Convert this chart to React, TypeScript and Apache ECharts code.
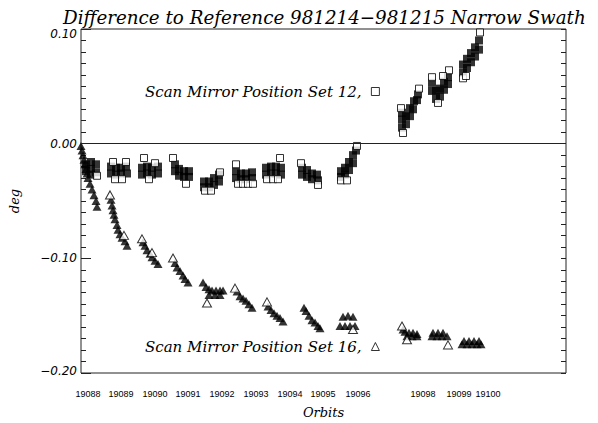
import React, { useEffect, useRef } from "react";
import * as echarts from "echarts";

// x: hours since start of 981214 data span; y: difference in degrees
const orbitLabels = ["19088", "19089", "19090", "19091", "19092", "19093", "19094", "19095", "19096", "19098", "19099", "19100"];
const orbitLabelHours = [0.35, 2.0, 3.7, 5.35, 7.05, 8.75, 10.45, 12.1, 13.85, 17.1, 18.9, 20.35];

const set12Dense: [number, number][] = [
  [0.25, -0.018], [0.25, -0.024], [0.5, -0.016], [0.5, -0.022], [0.5, -0.027], [0.75, -0.018], [0.75, -0.025],
  [1.5, -0.02], [1.5, -0.026], [1.75, -0.021], [1.75, -0.027], [2.0, -0.021], [2.0, -0.026], [2.25, -0.02], [2.3, -0.026],
  [3.05, -0.021], [3.05, -0.027], [3.3, -0.02], [3.3, -0.026], [3.55, -0.021], [3.55, -0.027], [3.85, -0.02], [3.85, -0.026],
  [4.7, -0.018], [4.7, -0.024], [4.9, -0.022], [4.9, -0.028], [5.15, -0.024], [5.15, -0.029], [5.4, -0.024], [5.4, -0.029],
  [6.15, -0.033], [6.15, -0.038], [6.4, -0.033], [6.4, -0.038], [6.65, -0.03], [6.65, -0.036], [6.9, -0.027], [6.9, -0.033],
  [7.75, -0.024], [7.75, -0.03], [8.0, -0.026], [8.0, -0.031], [8.25, -0.026], [8.25, -0.031], [8.55, -0.025], [8.55, -0.03],
  [9.25, -0.021], [9.25, -0.027], [9.5, -0.02], [9.5, -0.026], [9.75, -0.02], [9.75, -0.026], [10.0, -0.021], [10.0, -0.027],
  [11.05, -0.021], [11.05, -0.027], [11.3, -0.023], [11.3, -0.029], [11.55, -0.026], [11.55, -0.031], [11.8, -0.027], [11.85, -0.032],
  [13.0, -0.024], [13.0, -0.029], [13.2, -0.021], [13.2, -0.027], [13.4, -0.016], [13.4, -0.023], [13.6, -0.01], [13.6, -0.017], [13.75, -0.006],
  [16.05, 0.014], [16.05, 0.021], [16.05, 0.027], [16.25, 0.017], [16.25, 0.024], [16.45, 0.024], [16.45, 0.031], [16.6, 0.03], [16.65, 0.037], [16.8, 0.038], [16.85, 0.043],
  [17.55, 0.046], [17.55, 0.053], [17.75, 0.039], [17.75, 0.046], [17.95, 0.041], [17.95, 0.048], [18.15, 0.047], [18.15, 0.054], [18.35, 0.052], [18.35, 0.058],
  [19.1, 0.062], [19.1, 0.069], [19.3, 0.066], [19.3, 0.074], [19.5, 0.071], [19.5, 0.079], [19.7, 0.076], [19.7, 0.084], [19.9, 0.082], [19.9, 0.09],
];

const set12Sparse: [number, number][] = [
  [0.8, -0.028], [1.6, -0.016], [2.25, -0.016], [1.7, -0.031], [2.05, -0.031],
  [3.15, -0.0125], [3.4, -0.031], [3.7, -0.017], [4.6, -0.0125], [5.25, -0.035],
  [6.95, -0.025], [6.2, -0.041], [6.5, -0.041], [7.75, -0.018], [7.85, -0.035],
  [8.1, -0.035], [8.35, -0.035], [8.6, -0.035], [9.95, -0.0125], [9.3, -0.031],
  [9.6, -0.031], [9.85, -0.031], [11.85, -0.036], [11.0, -0.017], [13.8, -0.002],
  [13.0, -0.032], [13.3, -0.032], [16.1, 0.0093], [16.0, 0.031], [16.9, 0.048],
  [17.55, 0.058], [17.85, 0.0355], [18.4, 0.064], [18.1, 0.059], [19.1, 0.057],
  [19.25, 0.059], [19.95, 0.097],
];

const set16Dense: [number, number][] = [
  [0.0, -0.002], [0.05, -0.006], [0.1, -0.01], [0.15, -0.014], [0.2, -0.018], [0.25, -0.022], [0.3, -0.026], [0.35, -0.03], [0.45, -0.035], [0.55, -0.04], [0.65, -0.045], [0.75, -0.05], [0.8, -0.055],
  [1.5, -0.049], [1.55, -0.054], [1.6, -0.058], [1.65, -0.062], [1.7, -0.066], [1.8, -0.071], [1.85, -0.075], [1.95, -0.079], [2.05, -0.082], [2.2, -0.085], [2.3, -0.089],
  [3.1, -0.086], [3.2, -0.089], [3.3, -0.093], [3.45, -0.096], [3.55, -0.099], [3.7, -0.102], [3.85, -0.105],
  [4.7, -0.104], [4.8, -0.108], [4.95, -0.111], [5.1, -0.115], [5.2, -0.118], [5.35, -0.121],
  [6.1, -0.121], [6.25, -0.125], [6.4, -0.127], [6.55, -0.128], [6.75, -0.128], [6.95, -0.128], [7.1, -0.128], [6.4, -0.132], [6.7, -0.132], [6.95, -0.132],
  [7.8, -0.129], [7.95, -0.133], [8.1, -0.135], [8.25, -0.137], [8.4, -0.14], [8.55, -0.143],
  [9.35, -0.142], [9.5, -0.145], [9.65, -0.148], [9.8, -0.15], [9.95, -0.152], [10.1, -0.155],
  [11.15, -0.143], [11.25, -0.146], [11.4, -0.15], [11.55, -0.154], [11.7, -0.156], [11.85, -0.159], [11.95, -0.161],
  [12.95, -0.159], [13.2, -0.159], [13.45, -0.159], [13.7, -0.159], [13.1, -0.151], [13.35, -0.15], [13.6, -0.151],
  [16.1, -0.162], [16.2, -0.164], [16.4, -0.165], [16.6, -0.165], [16.8, -0.166], [16.3, -0.168], [16.55, -0.168], [16.8, -0.168],
  [17.6, -0.165], [17.85, -0.165], [18.1, -0.165], [17.55, -0.168], [17.8, -0.168], [18.05, -0.168], [18.3, -0.168],
  [19.15, -0.172], [19.4, -0.172], [19.65, -0.172], [19.9, -0.172], [19.05, -0.175], [19.3, -0.175], [19.55, -0.175], [19.8, -0.175], [20.0, -0.175],
];

const set16Sparse: [number, number][] = [
  [1.45, -0.0447], [2.15, -0.08], [3.05, -0.083], [3.55, -0.095], [4.6, -0.0997],
  [6.3, -0.139], [7.7, -0.126], [9.3, -0.138], [13.6, -0.162], [16.05, -0.159],
  [16.3, -0.171], [18.35, -0.1755],
];

const yTickLabels = ["\u22120.20", "\u22120.10", "0.00", "0.10"];
const yTickValues = [-0.2, -0.1, 0, 0.1];

const legendNames = ["Scan Mirror Position Set 12,", "Scan Mirror Position Set 16,"];

export default function App() {
  const ref = useRef<HTMLDivElement>(null);
  useEffect(() => {
    document.body.style.margin = "0";
    const chart = echarts.init(ref.current!, null, { renderer: "svg" });
    const serif = "DejaVu Serif";
    const hollow = { color: "#fff", borderColor: "#000", borderWidth: 1 };
    const labelFont = { fontFamily: "DejaVu Sans", fontStyle: "italic", fontSize: 12, color: "#000" };
    const yFmt = (v: number) => {
      const i = yTickValues.findIndex((t) => Math.abs(t - v) < 1e-6);
      if (i < 0) return "";
      if (i === 3) return "{t|" + yTickLabels[i] + "}";
      if (i === 0) return "{b|" + yTickLabels[i] + "}";
      return yTickLabels[i];
    };
    chart.setOption({
      animation: false,
      backgroundColor: "#fff",
      title: {
        text: "Difference to Reference 981214\u2212981215 Narrow Swath",
        left: 58,
        top: 3,
        textStyle: { fontFamily: serif, fontStyle: "italic", fontWeight: "normal", fontSize: 18.3, color: "#000" },
      },
      grid: {
        left: 81, right: 32, top: 29, bottom: 50,
        show: true, borderColor: "#222", borderWidth: 1,
        outerBoundsMode: "none",
      },
      legend: [
        {
          data: [{ name: legendNames[0], icon: "rect", itemStyle: hollow }],
          left: 145, top: 84, padding: 0, align: "right",
          itemWidth: 8, itemHeight: 8, selectedMode: false,
          formatter: (n: string) => n + " ",
          textStyle: { fontFamily: serif, fontStyle: "italic", fontSize: 15, color: "#000" },
        },
        {
          data: [{ name: legendNames[1], icon: "triangle", itemStyle: hollow }],
          left: 145, top: 339, padding: 0, align: "right",
          itemWidth: 8, itemHeight: 8, selectedMode: false,
          formatter: (n: string) => n + " ",
          textStyle: { fontFamily: serif, fontStyle: "italic", fontSize: 15, color: "#000" },
        },
      ],
      xAxis: {
        type: "value",
        min: 0,
        max: 24.25,
        axisLine: { show: false },
        axisTick: { show: false },
        splitLine: { show: false },
        axisLabel: {
          customValues: orbitLabelHours,
          formatter: (v: number) => {
            const i = orbitLabelHours.findIndex((h) => Math.abs(h - v) < 1e-6);
            return i >= 0 ? orbitLabels[i] : "";
          },
          fontFamily: "Liberation Sans",
          fontSize: 9,
          color: "#000",
          margin: 16,
        },
        name: "Orbits",
        nameLocation: "middle",
        nameGap: 33,
        nameTextStyle: { fontFamily: serif, fontStyle: "italic", fontSize: 13, color: "#000" },
      },
      yAxis: [
        {
          type: "value",
          min: -0.2,
          max: 0.1,
          interval: 0.1,
          position: "left",
          axisLine: { show: false },
          axisTick: { show: true, inside: true, length: 10, lineStyle: { color: "#222" } },
          minorTick: { show: true, splitNumber: 10, length: 5, lineStyle: { color: "#222" } },
          splitLine: { show: false },
          axisLabel: {
            formatter: yFmt,
            ...labelFont,
            margin: 4,
            rich: {
              t: { ...labelFont, padding: [10, 0, 0, 0] },
              b: { ...labelFont, padding: [0, 0, 5, 0] },
            },
          },
          name: "deg",
          nameLocation: "middle",
          nameGap: 60,
          nameRotate: 90,
          nameTextStyle: { fontFamily: serif, fontStyle: "italic", fontSize: 13, color: "#000" },
        },
        {
          type: "value",
          min: -0.2,
          max: 0.1,
          interval: 0.1,
          position: "right",
          axisLine: { show: false },
          axisTick: { show: true, inside: true, length: 5, lineStyle: { color: "#222" } },
          minorTick: { show: true, splitNumber: 10, length: 5, lineStyle: { color: "#222" } },
          splitLine: { show: false },
          axisLabel: { show: false },
        },
      ],
      series: [
        {
          name: "Set 12 dense",
          type: "scatter",
          symbol: "rect",
          symbolSize: 8,
          itemStyle: { color: "#000" },
          data: set12Dense,
          markLine: {
            silent: true,
            symbol: "none",
            label: { show: false },
            lineStyle: { color: "#222", type: "solid", width: 1 },
            data: [{ yAxis: 0 }],
          },
        },
        {
          name: "Set 16 dense",
          type: "scatter",
          symbol: "triangle",
          symbolSize: [9, 8],
          itemStyle: { color: "#000" },
          data: set16Dense,
        },
        {
          name: legendNames[0],
          type: "scatter",
          symbol: "rect",
          symbolSize: 7,
          itemStyle: hollow,
          data: set12Sparse,
        },
        {
          name: legendNames[1],
          type: "scatter",
          symbol: "triangle",
          symbolSize: [9, 8],
          itemStyle: hollow,
          data: set16Sparse,
        },
      ],
    });
    return () => chart.dispose();
  }, []);
  return <div ref={ref} style={{ position: "fixed", left: 0, top: 0, width: 598, height: 423 }} />;
}
